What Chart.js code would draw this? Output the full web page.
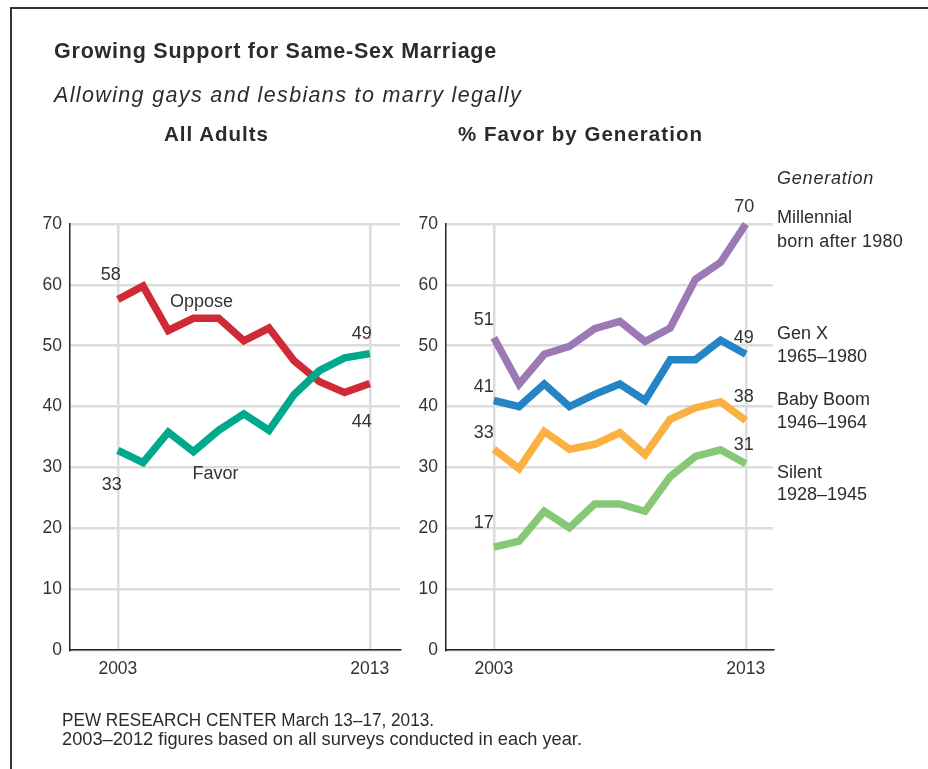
<!DOCTYPE html>
<html><head><meta charset="utf-8">
<script src="https://cdn.jsdelivr.net/npm/chart.js@4.4.1/dist/chart.umd.min.js"></script>
<style>
html,body{margin:0;padding:0;background:#fff;}
#page{position:relative;width:928px;height:769px;overflow:hidden;background:#fff;font-family:"Liberation Sans",Arial,sans-serif;color:#333;}
canvas{position:absolute;left:0;top:0;}
.t{position:absolute;white-space:nowrap;line-height:1;color:#2b2b2b;transform-origin:0 0;}
#frame{position:absolute;left:10px;top:7px;width:940px;height:800px;border-top:2px solid #333;border-left:2px solid #333;}
</style></head><body>
<div id="page">
<div id="frame"></div>
<canvas id="c1" width="928" height="769"></canvas>
<canvas id="c2" width="928" height="769"></canvas>
</div>
<script>
// ---- data ----
const years      = [2003, 2004, 2005, 2006, 2007, 2008, 2009, 2010, 2011, 2012, 2013];
const favor      = [32.8, 30.8, 35.8, 32.6, 36.1, 38.8, 36.1, 42.0, 45.9, 48.0, 48.7];
const oppose     = [57.6, 59.8, 52.5, 54.5, 54.5, 50.8, 52.9, 47.5, 44.1, 42.3, 43.8];
const millennial = [51.3, 43.7, 48.6, 49.9, 52.8, 54.0, 50.7, 52.9, 60.9, 63.7, 70.0];
const genX       = [41.0, 40.0, 43.7, 40.0, 42.0, 43.7, 41.0, 47.7, 47.7, 50.9, 48.6];
const babyBoom   = [33.0, 29.8, 35.9, 33.0, 33.8, 35.7, 32.1, 37.9, 39.8, 40.8, 37.7];
const silent     = [16.9, 17.9, 22.8, 20.1, 24.0, 24.0, 22.8, 28.5, 31.8, 32.9, 30.6];
const xTickYears = [2003, 2013];
const yMin = 0, yMax = 70, yStep = 10;

const page = document.getElementById('page');
const TXT = '#333';
const GRID = '#dcdcdc';

// place text with its baseline at `base`; fit to target width by spacing or horizontal scale
function addText(txt, x, base, size, weight, style, target, mode) {
  const d = document.createElement('div');
  d.className = 't';
  d.textContent = txt;
  d.style.fontSize = size + 'px';
  d.style.fontWeight = weight;
  d.style.fontStyle = style;
  d.style.left = x + 'px';
  d.style.top = (base - 0.8465 * size) + 'px';
  page.appendChild(d);
  if (target) {
    const w = d.getBoundingClientRect().width;
    if (mode === 'scale') d.style.transform = 'scaleX(' + (target / w) + ')';
    else d.style.letterSpacing = ((target - w) / txt.length) + 'px';
  }
  return d;
}

addText('Growing Support for Same-Sex Marriage', 54, 59, 21.5, 'bold', 'normal', 443);
addText('Allowing gays and lesbians to marry legally', 54, 103, 21.5, 'normal', 'italic', 468);
addText('All Adults', 164, 141, 20.5, 'bold', 'normal', 105);
addText('% Favor by Generation', 458, 141, 20.5, 'bold', 'normal', 245);
addText('Generation', 777, 184, 18, 'normal', 'italic', 97);
const legendLines = [
  ['Millennial', 223], ['born after 1980', 247],
  ['Gen X', 339], ['1965\u20131980', 362],
  ['Baby Boom', 405], ['1946\u20131964', 428],
  ['Silent', 478], ['1928\u20131945', 500]
];
legendLines.forEach(l => addText(l[0], 777, l[1], 18, 'normal', 'normal', l[0] === 'born after 1980' ? 126 : null));
addText('PEW RESEARCH CENTER March 13\u201317, 2013.', 62, 726, 19, 'normal', 'normal', 372, 'scale');
addText('2003\u20132012 figures based on all surveys conducted in each year.', 62, 745, 19, 'normal', 'normal', 520, 'scale');

const labelPlugin = {
  id: 'pointLabels',
  afterDatasetsDraw(chart) {
    const notes = chart.options.plugins.pointLabels.items || [];
    const ctx = chart.ctx;
    ctx.save();
    ctx.fillStyle = TXT;
    ctx.textAlign = 'center';
    ctx.textBaseline = 'alphabetic';
    const size = 18;
    ctx.font = size + 'px "Liberation Sans", Arial, sans-serif';
    notes.forEach(n => {
      const meta = chart.getDatasetMeta(n.ds);
      const pt = meta.data[n.i];
      const val = chart.data.datasets[n.ds].data[n.i].y;
      const text = n.text || String(Math.round(val));
      ctx.fillText(text, pt.x + n.dx, pt.y + n.dy + 0.716 * size / 2);
    });
    ctx.restore();
  }
};

function toXY(arr) { return years.map((y, i) => ({ x: y, y: arr[i] })); }

function lineSet(label, arr, color) {
  return {
    label, data: toXY(arr), borderColor: color, backgroundColor: color,
    borderWidth: 7.5, pointRadius: 0, tension: 0, fill: false, clip: false,
    borderJoinStyle: 'miter', borderCapStyle: 'butt'
  };
}

function makePanel(id, datasets, axisX, rightX, xMin, xMax, notes) {
  const tickFont = { family: '"Liberation Sans", Arial, sans-serif', size: 17.5 };
  return new Chart(document.getElementById(id), {
    type: 'line',
    data: { datasets },
    options: {
      responsive: false, animation: false, devicePixelRatio: 1,
      layout: { padding: { left: 0, top: 224, right: 928 - rightX, bottom: 0 } },
      plugins: { legend: { display: false }, tooltip: { enabled: false }, pointLabels: { items: notes } },
      scales: {
        x: {
          type: 'linear', min: xMin, max: xMax,
          afterBuildTicks: s => { s.ticks = xTickYears.map(v => ({ value: v })); },
          afterFit: s => { s.height = 769 - 650; },
          ticks: { callback: v => String(v), font: tickFont, color: TXT, padding: 9, maxRotation: 0 },
          grid: { color: GRID, lineWidth: 2.5, drawTicks: false },
          border: { color: '#222', width: 1.5 }
        },
        y: {
          min: yMin, max: yMax,
          afterFit: s => { s.width = axisX; },
          ticks: { stepSize: yStep, font: tickFont, color: TXT, padding: 8 },
          grid: { color: GRID, lineWidth: 2.5, drawTicks: false },
          border: { color: '#222', width: 1.5 }
        }
      }
    },
    plugins: [labelPlugin]
  });
}

makePanel('c1', [
  lineSet('Favor', favor, '#00a98b'),
  lineSet('Oppose', oppose, '#d12a37')
], 70, 400, 2001.1, 2014.2, [
  { ds: 1, i: 0, dx: -7, dy: -26 },
  { ds: 0, i: 0, dx: -6, dy: 33 },
  { ds: 0, i: 10, dx: -8, dy: -21 },
  { ds: 1, i: 10, dx: -8, dy: 37 },
  { ds: 1, i: 3, dx: 8, dy: -18, text: 'Oppose' },
  { ds: 0, i: 3, dx: 22, dy: 21, text: 'Favor' }
]);

makePanel('c2', [
  lineSet('Millennial', millennial, '#9c78b4'),
  lineSet('Gen X', genX, '#2384c6'),
  lineSet('Baby Boom', babyBoom, '#fbb042'),
  lineSet('Silent', silent, '#87c877')
], 446, 773, 2001.1, 2014.08, [
  { ds: 0, i: 10, dx: -1.5, dy: -18 },
  { ds: 0, i: 0, dx: -10, dy: -19 },
  { ds: 1, i: 10, dx: -2, dy: -18 },
  { ds: 1, i: 0, dx: -10, dy: -14.5 },
  { ds: 2, i: 0, dx: -10, dy: -18 },
  { ds: 2, i: 10, dx: -2, dy: -24.6 },
  { ds: 3, i: 10, dx: -2, dy: -20 },
  { ds: 3, i: 0, dx: -10, dy: -26 }
]);
</script>
</body></html>
